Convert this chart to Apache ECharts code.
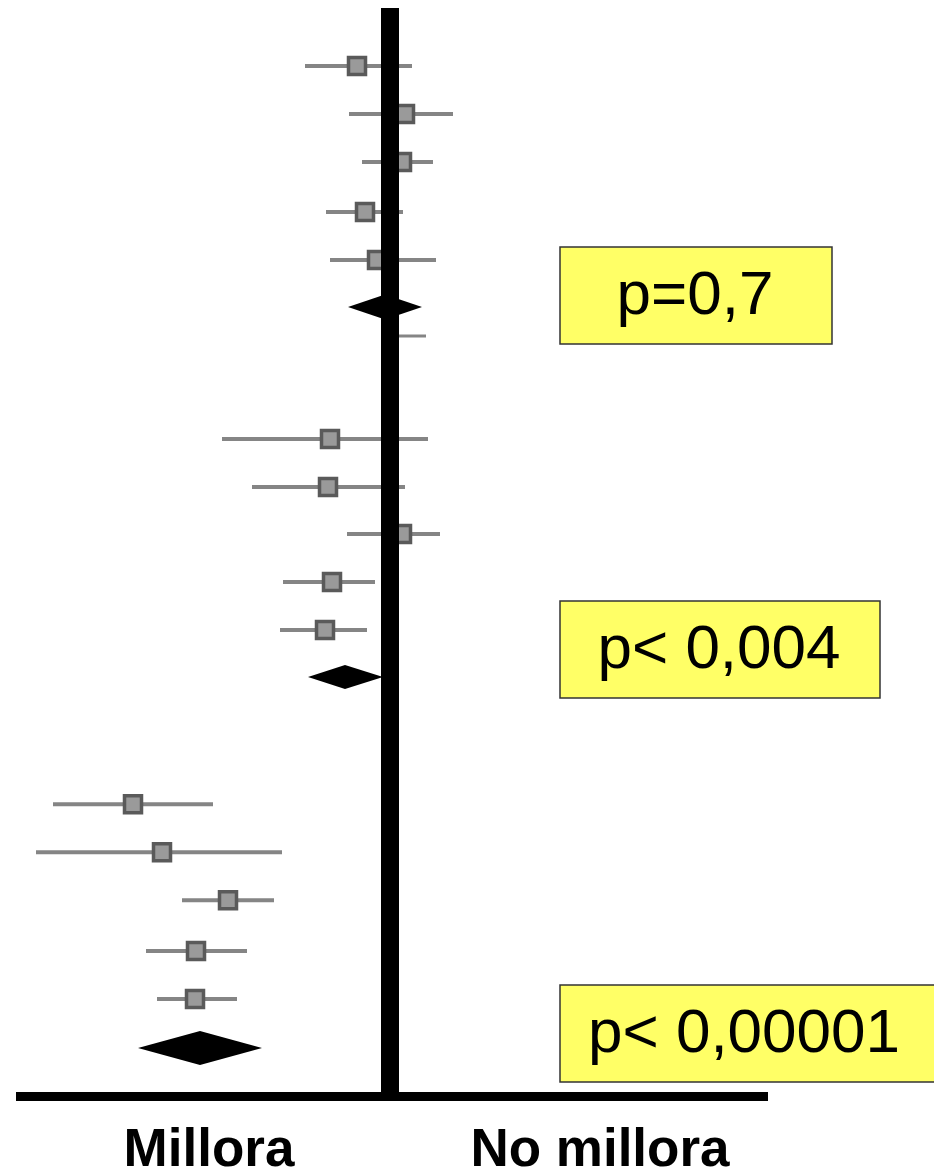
<!DOCTYPE html>
<html>
<head>
<meta charset="utf-8">
<script src="https://cdn.jsdelivr.net/npm/echarts@6/dist/echarts.min.js"></script>
<style>html,body{margin:0;padding:0;background:#fff}#c{width:934px;height:1175px}</style>
</head>
<body>
<div id="c"></div>
<script>
// Study rows (row index down the plot), effect estimate and CI (log scale units, 0 = no effect)
const studyRow = [0, 1, 2, 3.04, 4.04, 5.625, 7.77, 8.77, 9.75, 10.75, 11.75, 15.38, 16.38, 17.38, 18.44, 19.44];
const studyEst = [-0.165, 0.075, 0.06, -0.125, -0.065, null, -0.30, -0.31, 0.06, -0.29, -0.325, -1.285, -1.14, -0.81, -0.97, -0.975];
const studyLo  = [-0.425, -0.205, -0.14, -0.32, -0.30, 0.0, -0.84, -0.69, -0.215, -0.535, -0.55, -1.685, -1.77, -1.04, -1.22, -1.165];
const studyHi  = [0.11, 0.315, 0.215, 0.065, 0.23, 0.18, 0.19, 0.075, 0.25, -0.075, -0.115, -0.885, -0.54, -0.58, -0.715, -0.765];
// Pooled (diamond) rows
const pooledRow = [5.02, 12.73, 20.46];
const pooledEst = [-0.025, -0.225, -0.95];
const pooledLo  = [-0.21, -0.41, -1.26];
const pooledHi  = [0.16, -0.035, -0.64];
// Annotations
const pLabels = ['p=0,7', 'p< 0,004', 'p< 0,00001'];
const sideLabels = ['Millora', 'No millora'];

const chart = echarts.init(document.getElementById('c'), null, {renderer: 'canvas'});

const studyData = studyRow.map((r, i) => [r, studyEst[i], studyLo[i], studyHi[i]]);
const pooledData = pooledRow.map((r, i) => [r, pooledEst[i], pooledLo[i], pooledHi[i]]);
const diamondH = [25, 24, 34];

const option = {
  animation: false,
  backgroundColor: '#ffffff',
  grid: {left: 16, right: 166, top: 8, bottom: 79, containLabel: false},
  xAxis: {
    type: 'value', min: -1.87, max: 1.89,
    axisLine: {show: true, onZero: false, lineStyle: {color: '#000', width: 9, cap: 'butt'}},
    axisTick: {show: false}, axisLabel: {show: false}, splitLine: {show: false}
  },
  yAxis: {
    type: 'value', inverse: true, min: -1.2083, max: 21.4583, z: 10,
    axisLine: {show: true, onZero: true, lineStyle: {color: '#000', width: 18, cap: 'butt'}},
    axisTick: {show: false}, axisLabel: {show: false}, splitLine: {show: false}
  },
  series: [
    {
      type: 'custom', name: 'studies', z: 2,
      encode: {x: [1, 2, 3], y: 0},
      data: studyData,
      renderItem: function (params, api) {
        const row = api.value(0), est = api.value(1), lo = api.value(2), hi = api.value(3);
        const a = api.coord([lo, row]), b = api.coord([hi, row]);
        const children = [{
          type: 'line',
          shape: {x1: a[0], y1: a[1], x2: b[0], y2: b[1]},
          style: {stroke: '#858585', lineWidth: isNaN(est) ? 3 : 4}
        }];
        if (!isNaN(est)) {
          const c = api.coord([est, row]);
          const s = 17;
          children.push({
            type: 'rect',
            shape: {x: c[0] - s / 2, y: c[1] - s / 2, width: s, height: s},
            style: {fill: '#9a9a9a', stroke: '#5a5a5a', lineWidth: 3.5}
          });
        }
        return {type: 'group', children: children};
      }
    },
    {
      type: 'custom', name: 'pooled', z: 3,
      encode: {x: [1, 2, 3], y: 0},
      data: pooledData,
      renderItem: function (params, api) {
        const row = api.value(0), est = api.value(1), lo = api.value(2), hi = api.value(3);
        const c = api.coord([est, row]), a = api.coord([lo, row]), b = api.coord([hi, row]);
        const h = diamondH[params.dataIndex] / 2;
        return {
          type: 'polygon',
          shape: {points: [[a[0], a[1]], [c[0], c[1] - h], [b[0], b[1]], [c[0], c[1] + h]]},
          style: {fill: '#000'}
        };
      }
    }
  ],
  graphic: [
    {type: 'rect', shape: {x: 560, y: 247, width: 272, height: 97}, style: {fill: '#ffff66', stroke: '#333', lineWidth: 1.5}, z: 20},
    {type: 'text', x: 695, y: 297, style: {text: pLabels[0], fontFamily: 'Liberation Sans', fontSize: 62, fill: '#000', align: 'center', verticalAlign: 'middle'}, z: 21},
    {type: 'rect', shape: {x: 560, y: 601, width: 320, height: 97}, style: {fill: '#ffff66', stroke: '#333', lineWidth: 1.5}, z: 20},
    {type: 'text', x: 719, y: 651, style: {text: pLabels[1], fontFamily: 'Liberation Sans', fontSize: 62, fill: '#000', align: 'center', verticalAlign: 'middle'}, z: 21},
    {type: 'rect', shape: {x: 560, y: 985, width: 390, height: 97}, style: {fill: '#ffff66', stroke: '#333', lineWidth: 1.5}, z: 20},
    {type: 'text', x: 744, y: 1035, style: {text: pLabels[2], fontFamily: 'Liberation Sans', fontSize: 62, fill: '#000', align: 'center', verticalAlign: 'middle'}, z: 21},
    {type: 'text', x: 209, y: 1151, style: {text: sideLabels[0], fontFamily: 'Liberation Sans', fontWeight: 'bold', fontSize: 53, fill: '#000', align: 'center', verticalAlign: 'middle'}, z: 21},
    {type: 'text', x: 600, y: 1151, style: {text: sideLabels[1], fontFamily: 'Liberation Sans', fontWeight: 'bold', fontSize: 53, fill: '#000', align: 'center', verticalAlign: 'middle'}, z: 21}
  ]
};
chart.setOption(option);
</script>
</body>
</html>
